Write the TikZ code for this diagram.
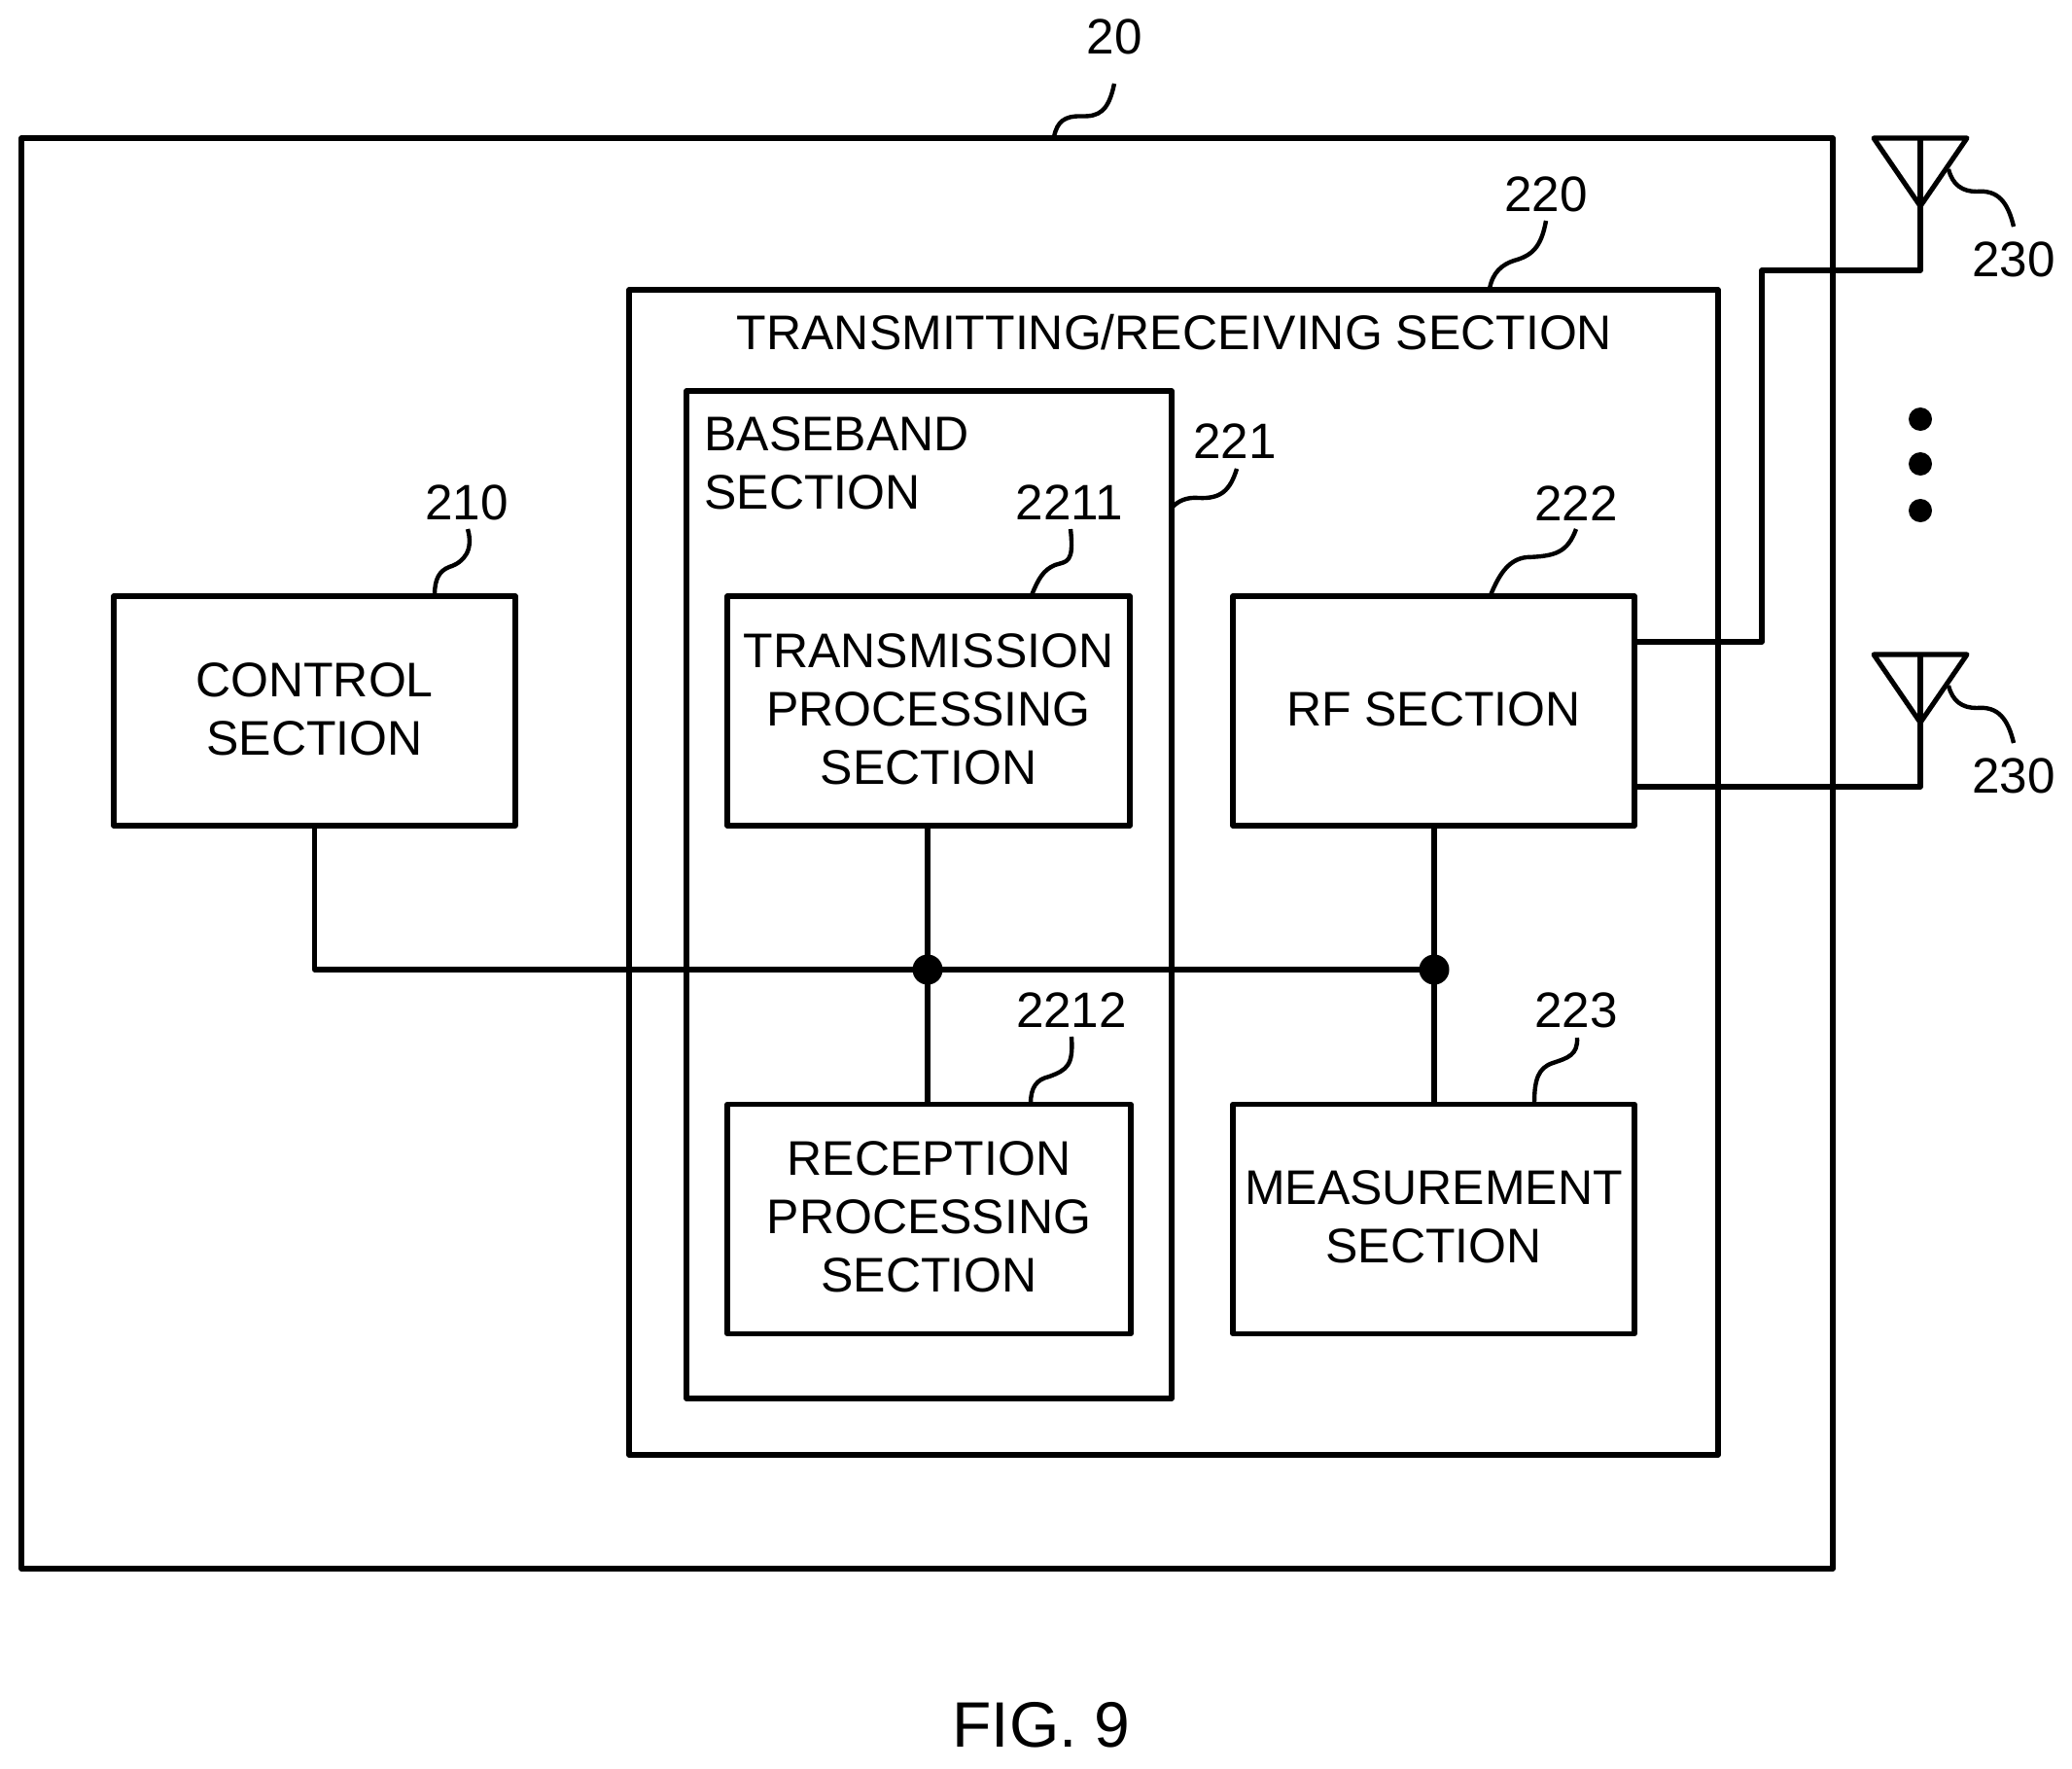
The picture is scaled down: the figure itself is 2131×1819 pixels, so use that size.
\documentclass[tikz,border=0pt]{standalone}
\usepackage{fontspec}
\setmainfont{Liberation Sans}
\begin{document}
\begin{tikzpicture}[x=0.5pt,y=-0.5pt,
  line width=2.55pt,line join=round,
  txt/.style={font=\fontsize{25pt}{30pt}\selectfont,align=center,inner sep=0pt},
  boxn/.style={draw,txt,text depth=2pt,minimum width=206.5pt,minimum height=118pt},
  frame/.style={draw,inner sep=0pt,outer sep=0pt},
  num/.style={txt,font=\fontsize{25.6pt}{30pt}\selectfont},
  lead/.style={line width=2.2pt},
  dotn/.style={circle,fill=black,inner sep=0pt,minimum size=15.5pt},
  adot/.style={circle,fill=black,inner sep=0pt,minimum size=12pt}]
\useasboundingbox (0,0) rectangle (2131,1819);
% frames
\node[frame,minimum width=931.5pt,minimum height=735.5pt] (dev) at (953.5,877.5) {};
\node[frame,minimum width=560pt,minimum height=599pt] (trx) at (1207,897) {};
\node[frame,minimum width=249.5pt,minimum height=518pt] (bb) at (955.5,920) {};
\node[txt] (trxt) at (1208,342) {TRANSMITTING/RECEIVING SECTION};
\node[txt,align=left,anchor=north west] (bbt) at (722,426) {BASEBAND\\SECTION};
% boxes
\node[boxn] (ctrl) at (323.5,731) {CONTROL\\SECTION};
\node[boxn,minimum width=207pt] (tx) at (955,731) {TRANSMISSION\\PROCESSING\\SECTION};
\node[boxn,minimum width=207.5pt] (rx) at (955.5,1253.5) {RECEPTION\\PROCESSING\\SECTION};
\node[boxn] (rf) at (1474.5,731) {RF SECTION};
\node[boxn] (meas) at (1474.5,1253.5) {MEASUREMENT\\SECTION};
% junctions
\node[dotn] (j1) at (954,997) {};
\node[dotn] (j2) at (1475,997) {};
\draw (ctrl.south) |- (j2.center);
\draw (j1|-tx.south) -- (j1.center) -- (j1|-rx.north);
\draw (j2|-rf.south) -- (j2.center) -- (j2|-meas.north);
% antennas
\coordinate (a1l) at (1927,142); \coordinate (a1r) at (2023,142); \coordinate (a1p) at (1975,212);
\coordinate (a2l) at (1927,673); \coordinate (a2r) at (2023,673); \coordinate (a2p) at (1975,743);
\draw (a1l) -- (a1r) -- (a1p) -- cycle;
\draw (a2l) -- (a2r) -- (a2p) -- cycle;
\coordinate (a1c) at (1975,142); \coordinate (a2c) at (1975,673);
\draw (a1c) -- (a1p);
\draw (a2c) -- (a2p);
\coordinate (rfu) at (1681,660); \coordinate (rfl) at (1681,809);
\coordinate (bendu) at (1812,278);
\draw (rfu) -| (bendu) -| (a1p);
\draw (rfl) -| (a2p);
\node[adot] (d1) at (1975,431) {};
\node[adot] (d2) at (1975,477) {};
\node[adot] (d3) at (1975,525) {};
% reference labels
\node[num] (n20) at (1146,38) {20};
\node[num] (n220) at (1590,200) {220};
\node[num] (n221) at (1270,454) {221};
\node[num] (n210) at (480,517) {210};
\node[num] (n2211) at (1100,517) {2211};
\node[num] (n222) at (1621,518) {222};
\node[num] (n2212) at (1102,1039) {2212};
\node[num] (n223) at (1621,1039) {223};
\node[num] (n230a) at (2071,267) {230};
\node[num] (n230b) at (2071,798) {230};
\node[txt,font=\fontsize{33pt}{40pt}\selectfont] (fig) at (1071,1774) {FIG. 9};
% leaders
\draw[lead] (1084,141) .. controls (1087,125) and (1095,119) .. (1112,119.5) .. controls (1130,120) and (1140,115) .. (1146,86);
\draw[lead] (1532,297) .. controls (1535,280) and (1545,272) .. (1557,268) .. controls (1575,263) and (1585,255) .. (1590,227);
\draw[lead] (1205,522) .. controls (1212,515) and (1220,511) .. (1233,512) .. controls (1255,513) and (1265,505) .. (1272,482);
\draw[lead] (447,612) .. controls (447,595) and (452,587) .. (462,583) .. controls (478,578) and (487,565) .. (481,544);
\draw[lead] (1061,612) .. controls (1068,595) and (1073,586) .. (1085,581) .. controls (1097,577) and (1105,580) .. (1101,544);
\draw[lead] (1533,612) .. controls (1542,590) and (1552,575) .. (1570,573) .. controls (1600,572) and (1612,568) .. (1621,544);
\draw[lead] (1060,1135) .. controls (1060,1118) and (1066,1110) .. (1079,1107) .. controls (1098,1100) and (1104,1095) .. (1102,1066);
\draw[lead] (1578,1135) .. controls (1578,1110) and (1582,1098) .. (1597,1093) .. controls (1612,1088) and (1623,1085) .. (1622,1067);
\draw[lead] (2004,174) .. controls (2008,190) and (2018,197) .. (2033,197) .. controls (2055,195) and (2065,208) .. (2071,233);
\draw[lead] (2004,705) .. controls (2008,721) and (2018,728) .. (2033,728) .. controls (2055,726) and (2065,739) .. (2071,764);
\end{tikzpicture}
\end{document}
